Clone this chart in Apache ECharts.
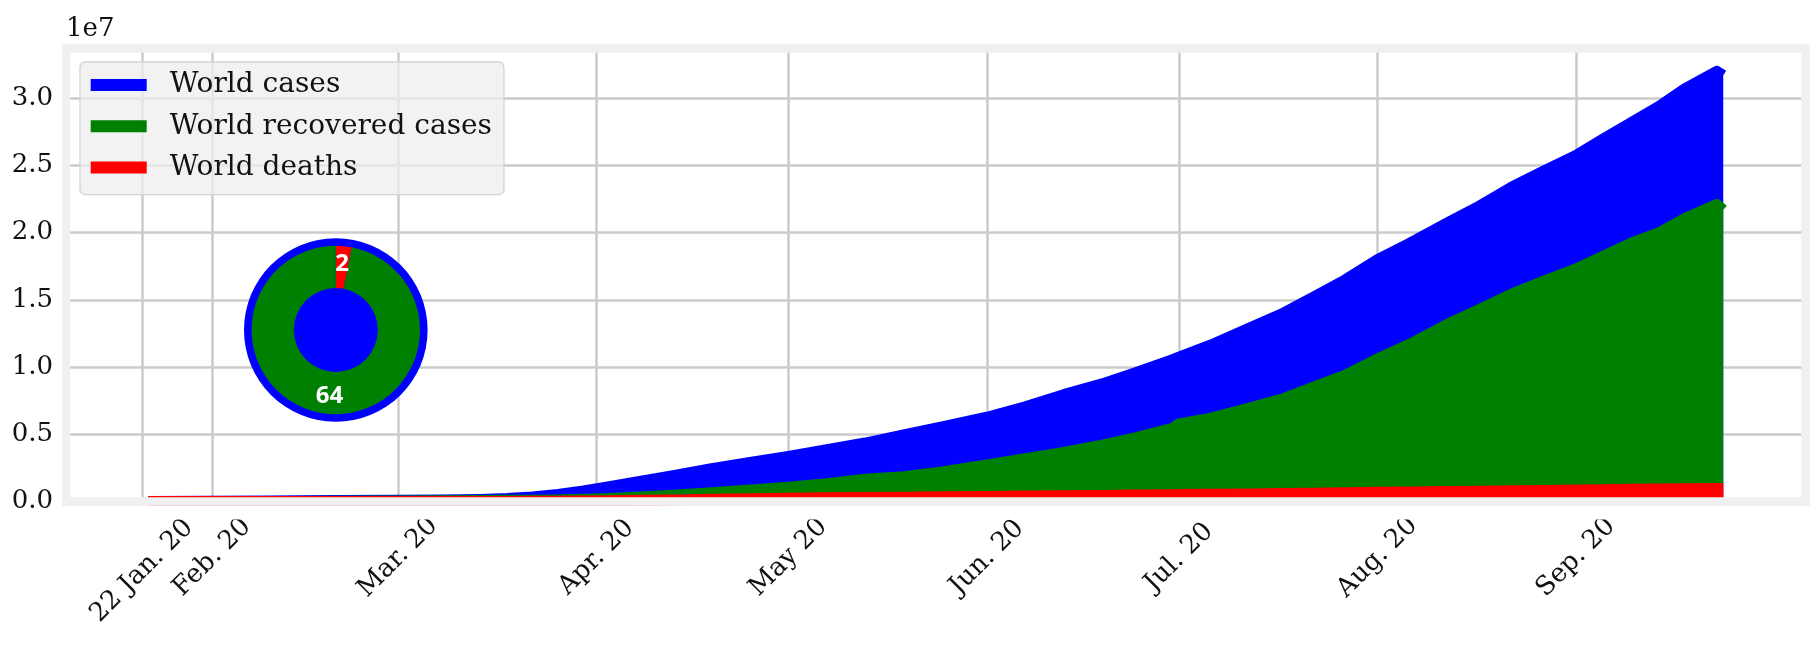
<!DOCTYPE html>
<html>
<head>
<meta charset="utf-8">
<script src="https://cdn.jsdelivr.net/npm/echarts@6/dist/echarts.min.js"></script>
<style>
  html, body { margin: 0; padding: 0; background: #ffffff; }
  #chart { width: 1817px; height: 649px; }
</style>
</head>
<body>
<div id="chart"></div>
<script>
// ---------------- data ----------------
const dates = [
  '2020-01-22','2020-02-01','2020-02-10','2020-02-20','2020-03-01','2020-03-08','2020-03-14','2020-03-18',
  '2020-03-22','2020-03-26','2020-03-30','2020-04-03','2020-04-08','2020-04-13','2020-04-19','2020-04-25',
  '2020-05-01','2020-05-07','2020-05-13','2020-05-19','2020-05-25','2020-06-01','2020-06-07','2020-06-13',
  '2020-06-19','2020-06-24','2020-06-30','2020-07-01','2020-07-06','2020-07-12','2020-07-17','2020-07-22',
  '2020-07-27','2020-08-01','2020-08-06','2020-08-12','2020-08-17','2020-08-22','2020-08-27','2020-09-01',
  '2020-09-05','2020-09-10','2020-09-14','2020-09-18','2020-09-23','2020-09-24'
];
const worldCases = [
  600, 12000, 43000, 76000, 88000, 110000, 156000, 220000,
  340000, 530000, 780000, 1100000, 1520000, 1920000, 2450000, 2900000,
  3350000, 3850000, 4350000, 4950000, 5550000, 6270000, 7050000, 7950000,
  8750000, 9550000, 10550000, 10740000, 11650000, 12900000, 13950000, 15200000,
  16500000, 18000000, 19200000, 20750000, 22000000, 23400000, 24600000, 25750000,
  26900000, 28300000, 29400000, 30700000, 32000000, 31700000
];
const worldRecovered = [
  0, 300, 3000, 18000, 43000, 60000, 70000, 85000,
  100000, 120000, 165000, 230000, 330000, 460000, 660000, 850000,
  1070000, 1320000, 1650000, 1850000, 2200000, 2730000, 3180000, 3650000,
  4200000, 4710000, 5450000, 5780000, 6200000, 6950000, 7600000, 8500000,
  9400000, 10600000, 11700000, 13200000, 14300000, 15450000, 16400000, 17300000,
  18200000, 19300000, 20000000, 21050000, 22100000, 21700000
];
const worldDeaths = [
  20, 260, 1000, 2000, 3000, 3800, 5800, 9000,
  15000, 24000, 38000, 59000, 89000, 120000, 165000, 205000,
  240000, 270000, 300000, 320000, 345000, 375000, 400000, 430000,
  455000, 480000, 510000, 515000, 540000, 565000, 590000, 620000,
  650000, 685000, 715000, 745000, 770000, 800000, 825000, 850000,
  875000, 905000, 930000, 950000, 970000, 955000
];
const seriesNames = ['World cases', 'World recovered cases', 'World deaths'];

// x tick positions and labels
const tickDates = ['2020-01-21','2020-02-01','2020-03-01','2020-04-01','2020-05-01','2020-06-01','2020-07-01','2020-08-01','2020-09-01'];
const tickLabels = ['22 Jan. 20','Feb. 20','Mar. 20','Apr. 20','May 20','Jun. 20','Jul. 20','Aug. 20','Sep. 20'];
// y tick values and scale text
const yTicks = [0, 5000000, 10000000, 15000000, 20000000, 25000000, 30000000];
const yScaleText = '1e7';

// inset donut
const pieRingNames = ['deaths', 'recovered'];
const pieRingValues = [2, 64];

// ---------------- chart ----------------
const DAY = 86400000;
const ORIGIN = Date.UTC(2020, 0, 1);
function dayNum(s) { const p = s.split('-').map(Number); return (Date.UTC(p[0], p[1] - 1, p[2]) - ORIGIN) / DAY; }
const tickDays = tickDates.map(dayNum);

const G = { left: 66, top: 48.5, right: 1805.5, bottom: 501.5 };
const xMin = dayNum('2020-02-01') - 22.85;
const xMax = dayNum('2020-09-01') + 35.85;

const colors = ['#0000ff', '#008000', '#ff0000'];
const valueArrays = [worldCases, worldRecovered, worldDeaths];

const lineSeries = seriesNames.map((name, k) => ({
  name: name,
  type: 'line',
  symbol: 'none',
  data: dates.map((d, i) => [dayNum(d), valueArrays[k][i]]),
  itemStyle: { color: colors[k] },
  lineStyle: { color: colors[k], width: 11, join: 'round' },
  areaStyle: { color: colors[k], opacity: 1 },
  z: 2 + k,
  animation: false,
  emphasis: { disabled: true }
}));

const chart = echarts.init(document.getElementById('chart'), null, { renderer: 'canvas' });
const serif = 'DejaVu Serif';

chart.setOption({
  backgroundColor: '#ffffff',
  animation: false,
  grid: {
    left: G.left, top: G.top,
    width: G.right - G.left, height: G.bottom - G.top,
    containLabel: false
  },
  legend: {
    data: seriesNames,
    orient: 'vertical',
    left: 80, top: 62,
    icon: 'rect',
    itemWidth: 56, itemHeight: 12,
    itemGap: 11.3,
    padding: [8, 12, 12, 10.7],
    backgroundColor: 'rgba(238,238,238,0.75)',
    borderColor: '#d4d4d4',
    borderWidth: 1.3,
    borderRadius: 5,
    textStyle: { fontFamily: serif, fontSize: 28, color: '#111', lineHeight: 30, padding: [0, 0, 0, 18] },
    selectedMode: false
  },
  xAxis: {
    type: 'value',
    min: xMin, max: xMax,
    axisLine: { show: false },
    axisTick: { show: false, customValues: tickDays },
    splitLine: { show: true, lineStyle: { color: '#cbcbcb', width: 2.5 } },
    axisLabel: {
      customValues: tickDays,
      rotate: 45,
      align: 'center',
      verticalAlign: 'middle',
      margin: 56,
      fontFamily: serif,
      fontSize: 26,
      color: '#111',
      showMinLabel: true,
      showMaxLabel: true,
      formatter: function (val) {
        let best = 0, bd = Infinity;
        tickDays.forEach((tt, i) => { const d = Math.abs(tt - val); if (d < bd) { bd = d; best = i; } });
        return best === 0 ? '{first|' + tickLabels[0] + '}' : tickLabels[best];
      },
      rich: {
        first: { fontFamily: serif, fontSize: 26, color: '#111', padding: [19, 19, 0, 0] }
      }
    }
  },
  yAxis: {
    type: 'value',
    min: 0, max: 33705000,
    name: yScaleText,
    nameLocation: 'end',
    nameGap: 6,
    nameTextStyle: { fontFamily: serif, fontSize: 26, color: '#111', align: 'left', verticalAlign: 'bottom' },
    axisLine: { show: false },
    axisTick: { show: false, customValues: yTicks },
    splitLine: { show: true, lineStyle: { color: '#cbcbcb', width: 2.5 } },
    axisLabel: {
      customValues: yTicks,
      margin: 13,
      fontFamily: serif,
      fontSize: 26,
      color: '#111',
      formatter: v => (v / 1e7).toFixed(1)
    }
  },
  graphic: [
    {
      // white cover below the axes frame (hides stroke overflow past the plot area)
      type: 'rect',
      z: 49,
      silent: true,
      shape: { x: G.left - 10, y: G.bottom + 4, width: G.right - G.left + 20, height: 14 },
      style: { fill: '#ffffff' }
    },
    {
      type: 'rect',
      z: 50,
      silent: true,
      shape: { x: G.left, y: G.top, width: G.right - G.left, height: G.bottom - G.top },
      style: { fill: 'none', stroke: '#f0f0f0', lineWidth: 8.4 }
    }
  ],
  series: lineSeries.concat([
    {
      type: 'pie',
      name: 'cases disc',
      center: [335.8, 330],
      radius: [0, 91.8],
      z: 20,
      silent: true,
      animation: false,
      label: { show: false },
      labelLine: { show: false },
      data: [{ value: 1, name: 'cases', itemStyle: { color: '#0000ff' } }]
    },
    {
      type: 'pie',
      name: 'ring',
      center: [335.8, 330],
      radius: [42, 84.2],
      startAngle: 90,
      clockwise: true,
      z: 21,
      silent: true,
      animation: false,
      label: {
        show: true, position: 'inside', formatter: '{c}',
        color: '#ffffff', fontFamily: 'Open Sans', fontWeight: 'bold', fontSize: 24
      },
      labelLine: { show: false },
      data: pieRingNames.map((n, i) => ({ name: n, value: pieRingValues[i], itemStyle: { color: i === 0 ? '#ff0000' : '#008000' } }))
    }
  ])
});
</script>
</body>
</html>
